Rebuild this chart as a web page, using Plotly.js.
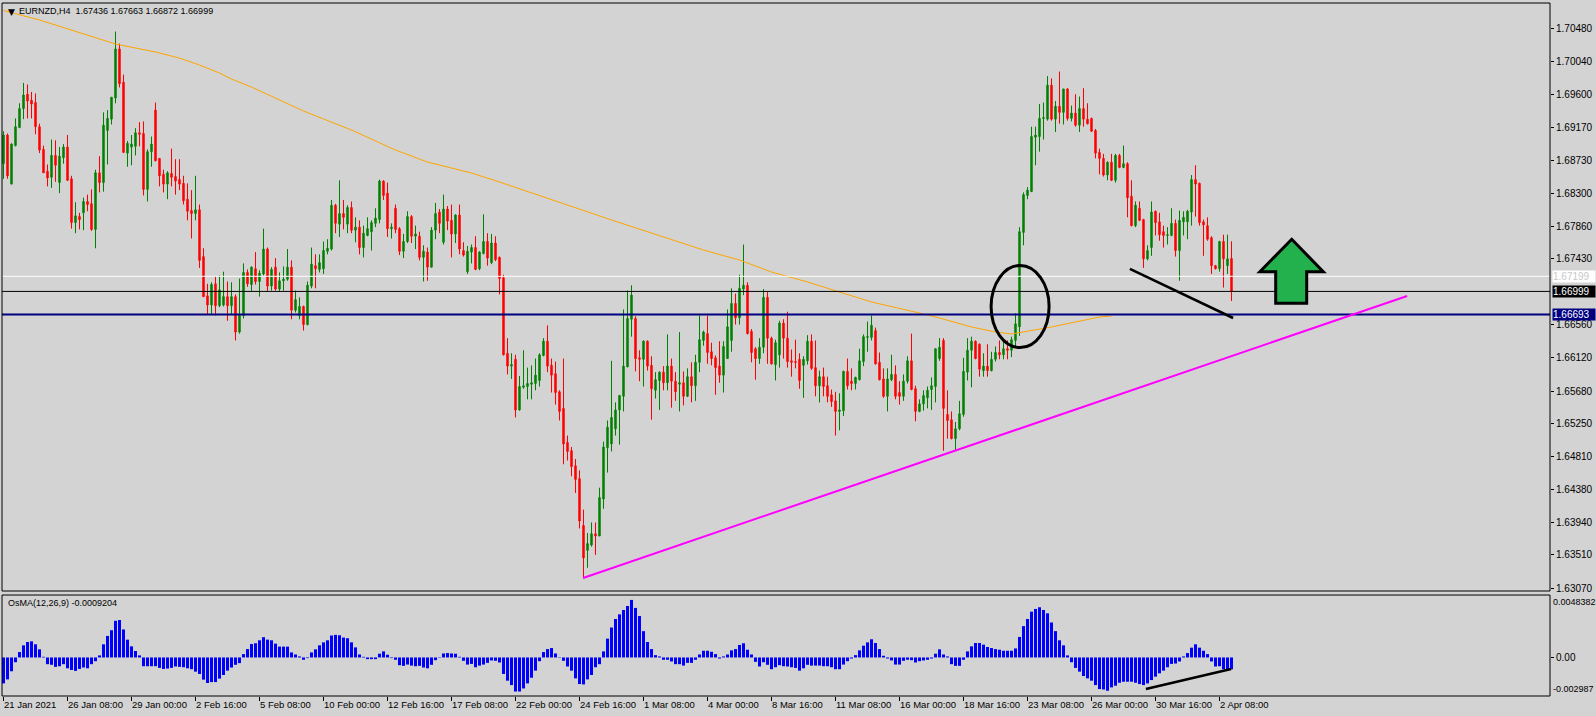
<!DOCTYPE html>
<html><head><meta charset="utf-8">
<script src="https://cdn.plot.ly/plotly-3.0.1.min.js"></script>
<style>html,body{margin:0;padding:0;background:#D3D3D3;}#chart{width:1596px;height:716px;}</style>
</head><body><div id="chart"></div>
<script>
// EURNZD H4 candles (bar index 0 = 21 Jan 2021 16:00)
const opens=[1.6869,1.6907,1.6842,1.6893,1.6917,1.6942,1.6961,1.6953,1.6950,1.6918,
1.6888,1.6859,1.6851,1.6880,1.6844,1.6877,1.6891,1.6849,1.6791,1.6799,
1.6804,1.6819,1.6816,1.6782,1.6857,1.6844,1.6913,1.6928,1.6956,1.7021,
1.6977,1.6883,1.6891,1.6892,1.6910,1.6909,1.6835,1.6885,1.6940,1.6876,
1.6855,1.6842,1.6856,1.6852,1.6848,1.6843,1.6822,1.6807,1.6803,1.6808,
1.6746,1.6694,1.6682,1.6710,1.6681,1.6682,1.6693,1.6681,1.6693,1.6646,
1.6668,1.6725,1.6709,1.6730,1.6713,1.6723,1.6756,1.6707,1.6732,1.6703,
1.6714,1.6716,1.6732,1.6675,1.6668,1.6680,1.6656,1.6707,1.6734,1.6729,
1.6730,1.6753,1.6756,1.6814,1.6789,1.6803,1.6789,1.6811,1.6781,1.6785,
1.6758,1.6774,1.6779,1.6790,1.6795,1.6846,1.6830,1.6783,1.6810,1.6783,
1.6753,1.6766,1.6799,1.6773,1.6773,1.6745,1.6752,1.6732,1.6781,1.6805,
1.6765,1.6809,1.6794,1.6776,1.6801,1.6754,1.6726,1.6752,1.6758,1.6730,
1.6750,1.6766,1.6738,1.6764,1.6745,1.6718,1.6618,1.6601,1.6610,1.6543,
1.6573,1.6574,1.6577,1.6578,1.6582,1.6615,1.6634,1.6602,1.6591,1.6567,
1.6545,1.6500,1.6489,1.6469,1.6452,1.6390,1.6357,1.6364,1.6379,1.6376,
1.6425,1.6493,1.6498,1.6518,1.6543,1.6561,1.6600,1.6663,1.6664,1.6612,
1.6610,1.6634,1.6602,1.6569,1.6582,1.6593,1.6579,1.6601,1.6581,1.6577,
1.6579,1.6561,1.6587,1.6575,1.6606,1.6635,1.6644,1.6620,1.6612,1.6601,
1.6589,1.6611,1.6635,1.6684,1.6665,1.6703,1.6708,1.6647,1.6624,1.6611,
1.6626,1.6692,1.6638,1.6603,1.6616,1.6658,1.6638,1.6608,1.6607,1.6610,
1.6602,1.6608,1.6634,1.6599,1.6575,1.6587,1.6575,1.6563,1.6555,1.6541,
1.6542,1.6594,1.6581,1.6578,1.6583,1.6607,1.6639,1.6639,1.6648,1.6606,
1.6584,1.6561,1.6583,1.6590,1.6566,1.6561,1.6581,1.6608,1.6571,1.6541,
1.6551,1.6559,1.6570,1.6574,1.6611,1.6635,1.6537,1.6530,1.6505,1.6518,
1.6537,1.6593,1.6622,1.6634,1.6630,1.6595,1.6601,1.6595,1.6610,1.6619,
1.6616,1.6624,1.6622,1.6635,1.6653,1.6778,1.6827,1.6832,1.6904,1.6905,
1.6929,1.6928,1.6973,1.6928,1.6945,1.6937,1.6968,1.6929,1.6936,1.6920,
1.6942,1.6928,1.6929,1.6913,1.6884,1.6876,1.6854,1.6871,1.6847,1.6880,
1.6864,1.6869,1.6826,1.6787,1.6810,1.6795,1.6743,1.6758,1.6806,1.6792,
1.6779,1.6774,1.6774,1.6790,1.6754,1.6792,1.6792,1.6805,1.6848,1.6843,
1.6792,1.6787,1.6771,1.6734,1.6730,1.6766,1.6734,1.67436];
const highs=[1.6912,1.6909,1.6896,1.6929,1.6949,1.6976,1.6974,1.6964,1.6962,1.6922,
1.6893,1.6868,1.6901,1.6900,1.6891,1.6895,1.6907,1.6853,1.6818,1.6804,
1.6824,1.6828,1.6835,1.6861,1.6879,1.6937,1.6940,1.6957,1.7044,1.7028,
1.6987,1.6899,1.6907,1.6916,1.6924,1.6925,1.6888,1.6905,1.6950,1.6876,
1.6861,1.6859,1.6889,1.6875,1.6875,1.6853,1.6843,1.6834,1.6853,1.6815,
1.6757,1.6710,1.6712,1.6720,1.6721,1.6726,1.6713,1.6712,1.6696,1.6717,
1.6737,1.6729,1.6733,1.6752,1.6728,1.6783,1.6758,1.6732,1.6744,1.6725,
1.6733,1.6756,1.6741,1.6701,1.6692,1.6681,1.6713,1.6758,1.6749,1.6749,
1.6766,1.6769,1.6821,1.6816,1.6847,1.6821,1.6814,1.6819,1.6798,1.6794,
1.6787,1.6798,1.6794,1.6810,1.6848,1.6847,1.6844,1.6790,1.6815,1.6785,
1.6776,1.6806,1.6801,1.6787,1.6779,1.6761,1.6758,1.6785,1.6817,1.6809,
1.6828,1.6813,1.6815,1.6802,1.6815,1.6765,1.6760,1.6762,1.6773,1.6753,
1.6802,1.6777,1.6776,1.6773,1.6746,1.6722,1.6638,1.6618,1.6616,1.6588,
1.6622,1.6599,1.6602,1.6611,1.6618,1.6638,1.6655,1.6611,1.6607,1.6569,
1.6611,1.6509,1.6494,1.6478,1.6463,1.6411,1.6380,1.6394,1.6394,1.6440,
1.6501,1.6529,1.6608,1.6553,1.6563,1.6676,1.6701,1.6708,1.6667,1.6622,
1.6635,1.6635,1.6614,1.6593,1.6594,1.6601,1.6643,1.6611,1.6593,1.6646,
1.6594,1.6598,1.6606,1.6616,1.6668,1.6648,1.6668,1.6632,1.6615,1.6634,
1.6634,1.6676,1.6704,1.6697,1.6722,1.6762,1.6712,1.6650,1.6626,1.6638,
1.6703,1.6699,1.6640,1.6636,1.6661,1.6663,1.6673,1.6623,1.6636,1.6618,
1.6614,1.6642,1.6643,1.6635,1.6595,1.6599,1.6587,1.6570,1.6567,1.6565,
1.6595,1.6611,1.6598,1.6587,1.6624,1.6643,1.6660,1.6668,1.6652,1.6619,
1.6598,1.6598,1.6616,1.6602,1.6581,1.6590,1.6614,1.6644,1.6575,1.6557,
1.6569,1.6574,1.6586,1.6624,1.6638,1.6638,1.6569,1.6541,1.6527,1.6555,
1.6612,1.6638,1.6640,1.6635,1.6631,1.6618,1.6630,1.6620,1.6627,1.6635,
1.6635,1.6635,1.6640,1.6671,1.6785,1.6831,1.6838,1.6918,1.6918,1.6948,
1.6950,1.6985,1.6982,1.6952,1.6991,1.6968,1.6969,1.6946,1.6961,1.6958,
1.6969,1.6949,1.6930,1.6915,1.6889,1.6882,1.6872,1.6882,1.6882,1.6882,
1.6893,1.6871,1.6847,1.6819,1.6819,1.6796,1.6761,1.6819,1.6807,1.6804,
1.6787,1.6785,1.6810,1.6795,1.6807,1.6806,1.6808,1.6854,1.6867,1.6844,
1.6795,1.6798,1.6773,1.6735,1.6767,1.6775,1.6775,1.67663];
const lows=[1.6849,1.6849,1.6842,1.6892,1.6916,1.6928,1.6929,1.6929,1.6908,1.6883,
1.6857,1.6839,1.6837,1.6845,1.6830,1.6869,1.6846,1.6783,1.6777,1.6782,
1.6781,1.6806,1.6780,1.6757,1.6831,1.6832,1.6868,1.6921,1.6949,1.6970,
1.6883,1.6865,1.6867,1.6880,1.6892,1.6827,1.6819,1.6865,1.6872,1.6839,
1.6831,1.6822,1.6839,1.6828,1.6834,1.6815,1.6794,1.6770,1.6794,1.6731,
1.6693,1.6670,1.6670,1.6668,1.6679,1.6680,1.6661,1.6670,1.6635,1.6644,
1.6664,1.6706,1.6700,1.6709,1.6693,1.6721,1.6700,1.6701,1.6701,1.6700,
1.6701,1.6714,1.6663,1.6672,1.6663,1.6648,1.6655,1.6704,1.6704,1.6725,
1.6723,1.6749,1.6754,1.6777,1.6772,1.6782,1.6777,1.6777,1.6765,1.6749,
1.6745,1.6773,1.6754,1.6785,1.6790,1.6821,1.6772,1.6770,1.6777,1.6748,
1.6744,1.6764,1.6764,1.6756,1.6741,1.6713,1.6714,1.6732,1.6769,1.6777,
1.6762,1.6781,1.6745,1.6764,1.6749,1.6746,1.6723,1.6737,1.6728,1.6728,
1.6749,1.6734,1.6736,1.6740,1.6696,1.6615,1.6590,1.6584,1.6533,1.6542,
1.6571,1.6557,1.6557,1.6569,1.6574,1.6614,1.6593,1.6566,1.6550,1.6529,
1.6471,1.6476,1.6455,1.6433,1.6386,1.6320,1.6334,1.6362,1.6351,1.6376,
1.6412,1.6460,1.6488,1.6509,1.6497,1.6541,1.6600,1.6640,1.6594,1.6581,
1.6574,1.6595,1.6530,1.6558,1.6543,1.6569,1.6569,1.6546,1.6555,1.6541,
1.6549,1.6560,1.6553,1.6555,1.6593,1.6628,1.6604,1.6602,1.6563,1.6579,
1.6566,1.6611,1.6620,1.6656,1.6656,1.6695,1.6643,1.6606,1.6583,1.6604,
1.6618,1.6604,1.6603,1.6582,1.6599,1.6611,1.6599,1.6587,1.6598,1.6571,
1.6559,1.6603,1.6596,1.6561,1.6553,1.6561,1.6553,1.6547,1.6509,1.6516,
1.6535,1.6570,1.6569,1.6570,1.6582,1.6601,1.6620,1.6635,1.6603,1.6582,
1.6559,1.6541,1.6581,1.6557,1.6550,1.6555,1.6578,1.6569,1.6528,1.6540,
1.6542,1.6545,1.6543,1.6553,1.6608,1.6489,1.6505,1.6504,1.6489,1.6516,
1.6534,1.6582,1.6573,1.6610,1.6587,1.6587,1.6587,1.6594,1.6607,1.6610,
1.6610,1.6610,1.6613,1.6625,1.6641,1.6761,1.6822,1.6832,1.6867,1.6885,
1.6901,1.6926,1.6926,1.6911,1.6922,1.6921,1.6926,1.6925,1.6918,1.6911,
1.6918,1.6921,1.6911,1.6876,1.6855,1.6852,1.6847,1.6846,1.6844,1.6863,
1.6863,1.6798,1.6786,1.6785,1.6793,1.6731,1.6741,1.6747,1.6774,1.6767,
1.6758,1.6762,1.6773,1.6746,1.6714,1.6774,1.6769,1.6787,1.6799,1.6787,
1.6747,1.6767,1.6723,1.6729,1.6726,1.6705,1.6723,1.66872];
const closes=[1.6907,1.6853,1.6895,1.6918,1.6942,1.6960,1.6952,1.6948,1.6918,1.6887,
1.6857,1.6850,1.6880,1.6867,1.6879,1.6891,1.6847,1.6791,1.6800,1.6795,
1.6819,1.6815,1.6782,1.6857,1.6844,1.6920,1.6929,1.6957,1.7021,1.6975,
1.6884,1.6896,1.6895,1.6910,1.6908,1.6835,1.6885,1.6895,1.6873,1.6853,
1.6842,1.6857,1.6851,1.6846,1.6842,1.6820,1.6806,1.6803,1.6808,1.6741,
1.6693,1.6682,1.6709,1.6681,1.6702,1.6693,1.6681,1.6693,1.6646,1.6668,
1.6725,1.6710,1.6732,1.6713,1.6724,1.6756,1.6707,1.6729,1.6703,1.6714,
1.6716,1.6732,1.6675,1.6689,1.6680,1.6656,1.6708,1.6736,1.6730,1.6738,
1.6754,1.6757,1.6814,1.6790,1.6803,1.6798,1.6811,1.6781,1.6785,1.6758,
1.6777,1.6783,1.6791,1.6797,1.6846,1.6827,1.6783,1.6785,1.6782,1.6753,
1.6766,1.6799,1.6773,1.6776,1.6745,1.6753,1.6732,1.6781,1.6803,1.6790,
1.6809,1.6793,1.6776,1.6801,1.6756,1.6748,1.6753,1.6758,1.6729,1.6752,
1.6766,1.6744,1.6764,1.6742,1.6717,1.6616,1.6601,1.6603,1.6543,1.6574,
1.6575,1.6578,1.6579,1.6589,1.6616,1.6634,1.6601,1.6589,1.6566,1.6541,
1.6498,1.6488,1.6468,1.6451,1.6396,1.6347,1.6366,1.6379,1.6376,1.6427,
1.6494,1.6520,1.6533,1.6543,1.6562,1.6601,1.6664,1.6695,1.6611,1.6610,
1.6634,1.6601,1.6571,1.6583,1.6593,1.6579,1.6601,1.6581,1.6567,1.6579,
1.6561,1.6587,1.6575,1.6606,1.6636,1.6646,1.6619,1.6611,1.6599,1.6589,
1.6627,1.6653,1.6684,1.6665,1.6704,1.6708,1.6644,1.6619,1.6611,1.6626,
1.6692,1.6638,1.6604,1.6632,1.6658,1.6638,1.6607,1.6606,1.6606,1.6582,
1.6610,1.6634,1.6598,1.6575,1.6587,1.6574,1.6561,1.6554,1.6541,1.6543,
1.6594,1.6575,1.6578,1.6586,1.6608,1.6640,1.6640,1.6655,1.6604,1.6583,
1.6561,1.6584,1.6590,1.6561,1.6561,1.6581,1.6608,1.6570,1.6541,1.6551,
1.6562,1.6569,1.6575,1.6624,1.6626,1.6545,1.6529,1.6505,1.6518,1.6538,
1.6594,1.6622,1.6634,1.6611,1.6597,1.6601,1.6595,1.6610,1.6619,1.6616,
1.6624,1.6622,1.6636,1.6657,1.6779,1.6828,1.6834,1.6905,1.6907,1.6929,
1.6930,1.6973,1.6928,1.6945,1.6937,1.6968,1.6929,1.6936,1.6920,1.6942,
1.6928,1.6922,1.6912,1.6883,1.6876,1.6854,1.6871,1.6847,1.6880,1.6864,
1.6869,1.6824,1.6787,1.6814,1.6794,1.6743,1.6754,1.6805,1.6791,1.6775,
1.6774,1.6775,1.6790,1.6754,1.6794,1.6798,1.6806,1.6848,1.6842,1.6791,
1.6788,1.6769,1.6734,1.6730,1.6766,1.6743,1.6743,1.66999];
// OsMA(12,26,9) histogram
const osma=[-0.00201,-0.00170,-0.00107,-0.00037,0.00042,0.00094,0.00120,0.00125,0.00102,0.00063,
0.00005,-0.00052,-0.00057,-0.00073,-0.00068,-0.00052,-0.00084,-0.00097,-0.00104,-0.00089,
-0.00078,-0.00084,-0.00052,-0.00029,0.00016,0.00102,0.00167,0.00211,0.00284,0.00290,
0.00217,0.00138,0.00086,0.00050,0.00016,-0.00068,-0.00068,-0.00068,-0.00068,-0.00081,
-0.00089,-0.00086,-0.00081,-0.00070,-0.00073,-0.00076,-0.00084,-0.00091,-0.00110,-0.00128,
-0.00172,-0.00198,-0.00191,-0.00191,-0.00164,-0.00136,-0.00102,-0.00078,-0.00057,-0.00044,
0.00026,0.00065,0.00104,0.00110,0.00133,0.00157,0.00138,0.00133,0.00107,0.00084,
0.00084,0.00084,0.00039,0.00023,0.00008,-0.00018,-0.00005,0.00039,0.00063,0.00094,
0.00117,0.00133,0.00170,0.00175,0.00172,0.00154,0.00149,0.00117,0.00078,0.00023,
0.00005,-0.00013,-0.00013,-0.00013,0.00029,0.00047,0.00021,-0.00005,-0.00018,-0.00060,
-0.00065,-0.00055,-0.00063,-0.00068,-0.00065,-0.00078,-0.00084,-0.00057,-0.00021,-0.00003,
0.00031,0.00034,0.00031,0.00029,0.00005,-0.00026,-0.00055,-0.00050,-0.00076,-0.00063,
-0.00055,-0.00042,-0.00023,-0.00026,-0.00039,-0.00128,-0.00180,-0.00214,-0.00264,-0.00264,
-0.00240,-0.00201,-0.00157,-0.00102,-0.00029,0.00042,0.00065,0.00073,0.00031,0.00003,
-0.00026,-0.00070,-0.00102,-0.00162,-0.00206,-0.00209,-0.00170,-0.00136,-0.00076,-0.00052,
0.00047,0.00146,0.00232,0.00298,0.00334,0.00368,0.00399,0.00446,0.00384,0.00321,
0.00204,0.00120,0.00065,0.00018,0.00008,-0.00018,-0.00018,-0.00031,-0.00052,-0.00052,
-0.00063,-0.00042,-0.00042,-0.00018,0.00023,0.00052,0.00052,0.00044,0.00026,-0.00008,
0.00008,0.00023,0.00055,0.00065,0.00097,0.00110,0.00060,0.00023,-0.00034,-0.00070,
-0.00037,-0.00057,-0.00091,-0.00076,-0.00060,-0.00068,-0.00070,-0.00076,-0.00081,-0.00102,
-0.00084,-0.00057,-0.00063,-0.00063,-0.00063,-0.00068,-0.00068,-0.00076,-0.00091,-0.00091,
-0.00055,-0.00029,-0.00008,0.00018,0.00055,0.00091,0.00117,0.00141,0.00112,0.00065,
0.00013,-0.00008,-0.00023,-0.00055,-0.00055,-0.00026,-0.00018,-0.00021,-0.00039,-0.00029,
-0.00023,-0.00018,-0.00008,0.00029,0.00063,0.00023,0.00008,-0.00052,-0.00065,-0.00065,
-0.00018,0.00047,0.00086,0.00112,0.00112,0.00099,0.00081,0.00073,0.00065,0.00060,
0.00052,0.00052,0.00052,0.00070,0.00159,0.00243,0.00298,0.00355,0.00376,0.00389,
0.00368,0.00342,0.00271,0.00204,0.00133,0.00094,0.00016,-0.00037,-0.00081,-0.00110,
-0.00144,-0.00162,-0.00180,-0.00214,-0.00245,-0.00248,-0.00258,-0.00232,-0.00219,-0.00196,
-0.00188,-0.00188,-0.00188,-0.00196,-0.00206,-0.00214,-0.00201,-0.00175,-0.00149,-0.00123,
-0.00102,-0.00076,-0.00050,-0.00047,-0.00031,0.00008,0.00034,0.00076,0.00102,0.00076,
0.00052,0.00026,-0.00031,-0.00070,-0.00068,-0.00091,-0.00091,-0.00092];
// moving average (orange) read at selected bars
const maIdx=[0,9,28,32,38,44,49,54,57,62,75,87,98,106,112,117,124,152,175,184,192,201,209,217,229,234,242,248,252,262,274,277];
const maVal=[1.70718,1.70593,1.70275,1.70235,1.70169,1.70089,1.69997,1.69891,1.69811,1.69705,1.69388,1.69136,1.68871,1.68712,1.68633,1.68567,1.68448,1.67945,1.67547,1.67415,1.67256,1.67124,1.66991,1.66859,1.66713,1.66647,1.66528,1.66462,1.66435,1.66528,1.66660,1.66674];
// axis labels
const dateTickIdx=[0,16,32,48,64,80,96,112,128,144,160,176,192,208,224,240,256,272,288,304];
const dateLabels=["21 Jan 2021","26 Jan 08:00","29 Jan 00:00","2 Feb 16:00","5 Feb 08:00","10 Feb 00:00","12 Feb 16:00","17 Feb 08:00","22 Feb 00:00","24 Feb 16:00","1 Mar 08:00","4 Mar 00:00","8 Mar 16:00","11 Mar 08:00","16 Mar 00:00","18 Mar 16:00","23 Mar 08:00","26 Mar 00:00","30 Mar 16:00","2 Apr 08:00"];
const priceTicks=[1.70480,1.70040,1.69600,1.69170,1.68730,1.68300,1.67860,1.67430,1.66560,1.66120,1.65680,1.65250,1.64810,1.64380,1.63940,1.63510,1.63070];
// horizontal levels
const levelWhite=1.67199, levelBlack=1.66999, levelNavy=1.66693;
// drawn objects (bar index, price)
const magentaLine={x0:144.9,y0:1.63205,x1:350.9,y1:1.66938};
const blackLine={x0:281.6,y0:1.67296,x1:307.4,y1:1.66647};
const osmaLine={x0:285.6,y0:-0.00245,x1:306.9,y1:-0.00090};
const ellipse={x0:246.9,x1:261.4,y0:1.66256,y1:1.67342};
const arrowX=[314.1,318.05,322.05,325.8,329.95];
const arrowY=[1.66842,1.67260,1.67689];

const barIdx=closes.map((_,i)=>i);
const FONT='"Liberation Sans", Arial, sans-serif';

const traces=[
 {type:'scatter',mode:'lines',x:maIdx,y:maVal,line:{color:'#FFA500',width:1},hoverinfo:'skip',xaxis:'x',yaxis:'y'},
 {type:'candlestick',x:barIdx,open:opens,high:highs,low:lows,close:closes,xaxis:'x',yaxis:'y',whiskerwidth:0,
  increasing:{line:{color:'#008000',width:1},fillcolor:'#008000'},
  decreasing:{line:{color:'#FF0000',width:1},fillcolor:'#FF0000'},hoverinfo:'skip'},
 {type:'bar',x:barIdx,y:osma,xaxis:'x',yaxis:'y2',marker:{color:'#0000FF',line:{width:0}},width:0.75,hoverinfo:'skip'}
];

const ax=arrowX, ay=arrowY;
const arrowPath=`M${ax[2]},${ay[2]} L${ax[4]},${ay[1]} L${ax[3]},${ay[1]} L${ax[3]},${ay[0]} L${ax[1]},${ay[0]} L${ax[1]},${ay[1]} L${ax[0]},${ay[1]} Z`;

const shapes=[
 {type:'line',xref:'paper',yref:'y',x0:0,x1:1,y0:levelWhite,y1:levelWhite,line:{color:'#FFFFFF',width:1}},
 {type:'line',xref:'paper',yref:'y',x0:0,x1:1,y0:levelBlack,y1:levelBlack,line:{color:'#000000',width:1}},
 {type:'line',xref:'paper',yref:'y',x0:0,x1:1,y0:levelNavy,y1:levelNavy,line:{color:'#000080',width:2}},
 {type:'line',xref:'x',yref:'y',x0:magentaLine.x0,y0:magentaLine.y0,x1:magentaLine.x1,y1:magentaLine.y1,line:{color:'#FF00FF',width:2}},
 {type:'line',xref:'x',yref:'y',x0:blackLine.x0,y0:blackLine.y0,x1:blackLine.x1,y1:blackLine.y1,line:{color:'#000000',width:2.5}},
 {type:'line',xref:'x',yref:'y2',x0:osmaLine.x0,y0:osmaLine.y0,x1:osmaLine.x1,y1:osmaLine.y1,line:{color:'#000000',width:2.5}},
 {type:'circle',xref:'x',yref:'y',x0:ellipse.x0,x1:ellipse.x1,y0:ellipse.y0,y1:ellipse.y1,line:{color:'#000000',width:3}},
 {type:'path',xref:'x',yref:'y',path:arrowPath,fillcolor:'#22B14C',line:{color:'#000000',width:3}},
 {type:'rect',xref:'paper',yref:'y domain',x0:0,x1:1,y0:0,y1:1,line:{color:'#000000',width:1}},
 {type:'rect',xref:'paper',yref:'y2 domain',x0:0,x1:1,y0:0,y1:1,line:{color:'#000000',width:1}}
];

function lvlLabel(v,bg,fg){
 return {xref:'paper',yref:'y',x:1,y:v,xanchor:'left',yanchor:'middle',xshift:2,text:v.toFixed(5),showarrow:false,
  bgcolor:bg,borderpad:0,width:42,height:11,align:'left',font:{family:FONT,size:10,color:fg}};
}
const annotations=[
 {xref:'paper',yref:'paper',x:0,y:1,xanchor:'left',yanchor:'top',xshift:4,yshift:-2,text:'▼',showarrow:false,font:{family:'DejaVu Sans',size:9,color:'#000'}},
 {xref:'paper',yref:'paper',x:0,y:1,xanchor:'left',yanchor:'top',xshift:15,yshift:-1,text:'EURNZD,H4  1.67436 1.67663 1.66872 1.66999',showarrow:false,font:{family:FONT,size:9,color:'#000'}},
 {xref:'paper',yref:'y2 domain',x:0,y:1,xanchor:'left',yanchor:'top',xshift:4,yshift:-1,text:'OsMA(12,26,9) -0.0009204',showarrow:false,font:{family:FONT,size:9,color:'#000'}},
 lvlLabel(levelWhite,'#FFFFFF','#C8C8C8'),
 lvlLabel(levelBlack,'#000000','#FFFFFF'),
 lvlLabel(levelNavy,'#000080','#FFFFFF'),
 {xref:'paper',yref:'y2 domain',x:1,y:1,xanchor:'left',yanchor:'top',xshift:1,yshift:0,text:'0.0048382',showarrow:false,font:{family:FONT,size:9,color:'#000'}},
 {xref:'paper',yref:'y2 domain',x:1,y:0,xanchor:'left',yanchor:'bottom',xshift:1,yshift:0,text:'-0.002987',showarrow:false,font:{family:FONT,size:9,color:'#000'}}
];

const layout={
 width:1596,height:716,margin:{l:2,r:46,t:3,b:20,pad:0},
 paper_bgcolor:'#D3D3D3',plot_bgcolor:'#D3D3D3',showlegend:false,
 font:{family:FONT,size:10,color:'#000'},
 boxgap:0.5,bargap:0.25,hovermode:false,
 xaxis:{range:[-0.375,386.625],anchor:'y2',tickvals:dateTickIdx,ticktext:dateLabels,ticks:'outside',ticklen:4,tickcolor:'#000',
  tickangle:0,ticklabelposition:'outside right',showgrid:false,zeroline:false,showline:false,rangeslider:{visible:false},
  tickfont:{family:FONT,size:9.5,color:'#000'},fixedrange:true,automargin:false},
 yaxis:{domain:[0.1515,1],range:[1.63032,1.70818],side:'right',anchor:'x',tickvals:priceTicks,ticktext:priceTicks.map(v=>v.toFixed(5)),
  ticks:'outside',ticklen:3,tickcolor:'#000',showgrid:false,zeroline:false,showline:false,tickfont:{family:FONT,size:10,color:'#000'},fixedrange:true},
 yaxis2:{domain:[0,0.1457],range:[-0.002987,0.0048382],side:'right',anchor:'x',tickvals:[0],ticktext:['0.00'],
  ticks:'outside',ticklen:3,tickcolor:'#000',showgrid:false,zeroline:false,showline:false,tickfont:{family:FONT,size:10,color:'#000'},fixedrange:true},
 shapes:shapes,annotations:annotations
};
Plotly.newPlot('chart',traces,layout,{staticPlot:true,displayModeBar:false});
</script></body></html>
